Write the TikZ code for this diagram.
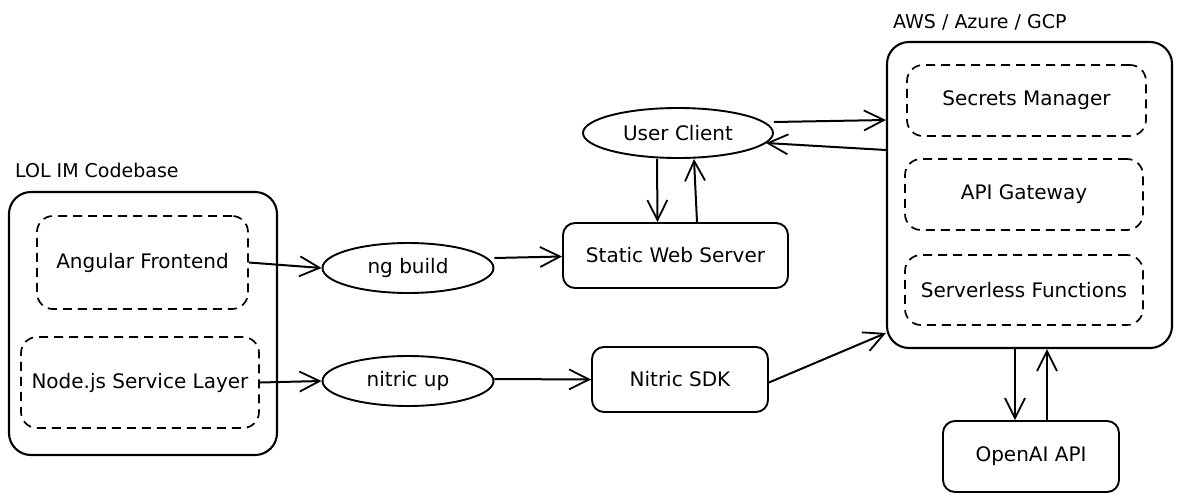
\documentclass[tikz,border=0pt]{standalone}
\usepackage{fontspec}
\setmainfont{DejaVu Sans}
\usetikzlibrary{arrows.meta,shapes.geometric,calc}
\tikzset{
  box/.style={draw, line width=1.9pt, rounded corners=12pt, inner sep=0pt, font=\fontsize{20}{24}\selectfont},
  bigbox/.style={draw, line width=2.1pt, rounded corners=22pt, inner sep=0pt},
  dbox/.style={draw, line width=1.7pt, dash pattern=on 9pt off 6pt, rounded corners=16pt, inner sep=0pt, font=\fontsize{20}{24}\selectfont},
  oval/.style={draw, ellipse, line width=1.9pt, inner sep=0pt, font=\fontsize{20}{24}\selectfont},
  arr/.style={line width=2pt, -{Straight Barb[length=20pt,width=20pt,line width=1.8pt]}},
  lbl/.style={anchor=west, inner sep=0pt, font=\fontsize{19}{23}\selectfont}
}
\begin{document}
\begin{tikzpicture}[x=1pt,y=-1pt]
\useasboundingbox (0,0) rectangle (1181,501);
% left group
\node[bigbox, minimum width=268pt, minimum height=263pt] (lb) at (143,323.5) {};
\node[lbl] (lbt) at (15,170) {LOL IM Codebase};
\node[dbox, minimum width=211pt, minimum height=93pt] (af) at (142.5,262.5) {Angular Frontend};
\node[dbox, minimum width=238pt, minimum height=91pt] (nj) at (140,382.5) {Node.js Service Layer};
% middle
\node[oval, minimum width=171pt, minimum height=50pt] (ng) at (408,268) {ng build};
\node[oval, minimum width=171pt, minimum height=50pt] (nu) at (408,381) {nitric up};
\node[box, minimum width=225pt, minimum height=65pt] (sws) at (675.5,255.5) {Static Web Server};
\node[oval, minimum width=190pt, minimum height=50pt] (uc) at (678,133) {User Client};
\node[box, minimum width=176pt, minimum height=65pt] (sdk) at (680,379.5) {Nitric SDK};
% right group
\node[bigbox, minimum width=285pt, minimum height=306pt] (rb) at (1029.5,195) {};
\node[lbl] (rbt) at (893,22) {AWS / Azure / GCP};
\node[dbox, minimum width=239pt, minimum height=71pt] (sm) at (1026.5,100.5) {Secrets Manager};
\node[dbox, minimum width=238pt, minimum height=71pt] (ag) at (1024,194.5) {API Gateway};
\node[dbox, minimum width=238pt, minimum height=70pt] (sf) at (1024,290) {Serverless Functions};
\node[box, minimum width=176pt, minimum height=71pt] (oai) at (1031,456.5) {OpenAI API};
% connectors
\draw[arr] (af.east) -- (ng.west);
\draw[arr] ([yshift=10pt]ng.east) -- ([yshift=-1pt]sws.west);
\draw[arr] (nj.east) -- (nu.west);
\draw[arr] ([yshift=2pt]nu.east) -- (sdk.west);
\draw[arr] ([yshift=-3pt]sdk.east) -- ([yshift=-138pt]rb.west);
\draw[arr] ([yshift=11pt]uc.east) -- ([yshift=75pt]rb.west);
\draw[arr] ([yshift=45pt]rb.west) -- ([xshift=-8pt,yshift=-10pt]uc.east);
\draw[arr] ([xshift=-21pt]uc.south) -- ([xshift=-18pt]sws.north);
\draw[arr] ([xshift=21.5pt]sws.north) -- ([xshift=16pt]uc.south);
\draw[arr] ([xshift=-14.5pt]rb.south) -- ([xshift=-16pt]oai.north);
\draw[arr] ([xshift=16pt]oai.north) -- ([xshift=17.5pt]rb.south);
\end{tikzpicture}
\end{document}
